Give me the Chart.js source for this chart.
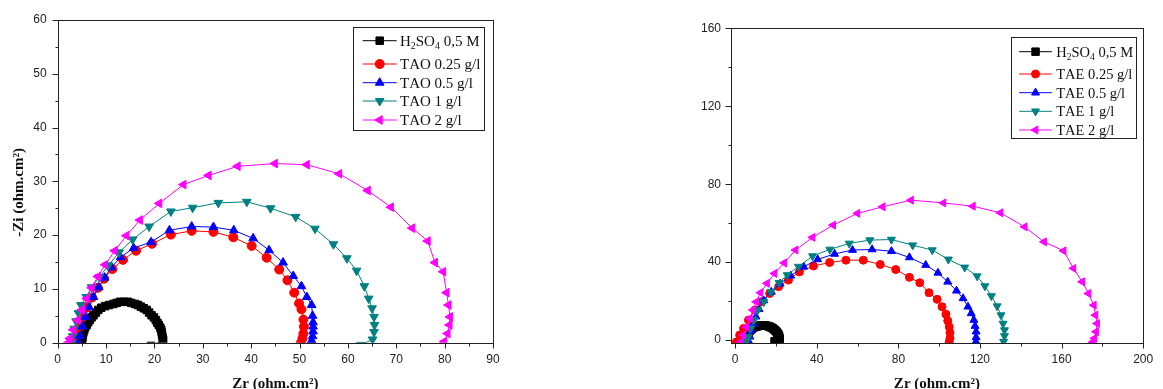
<!DOCTYPE html>
<html>
<head>
<meta charset="utf-8">
<script src="https://cdn.jsdelivr.net/npm/chart.js@4/dist/chart.umd.min.js"></script>
<style>
  html, body { margin: 0; padding: 0; background: #fff; width: 1163px; height: 389px; overflow: hidden; }
  .panel { position: absolute; top: 0; height: 389px; }
  #taoBox { left: 0; width: 560px; }
  #taeBox { left: 600px; width: 563px; }
</style>
</head>
<body>
<div class="panel" id="taoBox"><canvas id="taoChart"></canvas></div>
<div class="panel" id="taeBox"><canvas id="taeChart"></canvas></div>
<script>
// tick values
const taoXTicks = [0, 10, 20, 30, 40, 50, 60, 70, 80, 90];
const taoYTicks = [0, 10, 20, 30, 40, 50, 60];
const taeXTicks = [0, 40, 80, 120, 160, 200];
const taeYTicks = [0, 40, 80, 120, 160];

const xTitle = 'Zr (ohm.cm²)';
const yTitle = '-Zi (ohm.cm²)';

const taoLabels = ['H₂SO₄ 0,5 M', 'TAO 0.25 g/l', 'TAO 0.5 g/l', 'TAO 1 g/l', 'TAO 2 g/l'];
const taeLabels = ['H₂SO₄ 0,5 M', 'TAE 0.25 g/l', 'TAE 0.5 g/l', 'TAE 1 g/l', 'TAE 2 g/l'];

// blank solution (same for both panels)
const blankZr = [5.0, 5.0, 5.1, 5.2, 5.3, 5.5, 5.7, 6.0, 6.3, 6.6, 7.0, 7.4, 7.9, 8.4, 9.0, 9.8, 10.6, 11.5, 12.2, 12.9,
  13.7, 14.5, 15.2, 16.0, 16.6, 17.2, 17.8, 18.4, 18.9, 19.4, 19.9, 20.3, 20.6, 20.9, 21.2, 21.4, 21.5, 21.6, 21.7, 21.8, 19.3];
const blankZi = [0.0, 0.4, 0.9, 1.4, 1.9, 2.4, 2.9, 3.3, 3.8, 4.2, 4.7, 5.1, 5.6, 6.1, 6.5, 6.8, 7.0, 7.2, 7.4, 7.6,
  7.6, 7.6, 7.4, 7.2, 7.0, 6.7, 6.4, 6.1, 5.6, 5.1, 4.7, 4.2, 3.7, 3.3, 2.8, 2.4, 1.9, 1.4, 0.9, 0.5, -0.6];

// TAO panel
const tao025Zr = [3.8, 4.1, 4.6, 5.3, 6.1, 7.1, 8.3, 9.6, 11.3, 13.5, 16.2, 19.5, 23.4, 27.7, 32.2, 36.3, 40.1, 43.2, 45.8, 47.5, 48.9, 49.9, 50.4, 50.8, 50.9, 50.8, 50.6, 50.3];
const tao025Zi = [0.0, 1.4, 3.0, 4.8, 6.6, 8.4, 10.2, 11.9, 13.7, 15.4, 17.1, 18.4, 20.1, 20.8, 20.6, 19.6, 18.0, 15.8, 13.6, 11.6, 9.3, 7.3, 6.2, 4.3, 3.0, 1.7, 0.8, 0.0];
const tao05Zr = [4.3, 4.6, 5.1, 5.7, 6.5, 7.4, 8.5, 9.7, 11.1, 13.0, 15.7, 19.3, 23.1, 27.7, 32.2, 36.4, 40.4, 43.7, 46.6, 48.7, 50.4, 51.5, 52.5, 52.7, 52.8, 52.8, 52.8, 52.7, 52.5];
const tao05Zi = [0.0, 1.3, 3.0, 4.8, 6.6, 8.5, 10.3, 12.1, 14.0, 15.9, 17.6, 18.7, 20.9, 21.6, 21.5, 20.9, 19.4, 17.2, 14.9, 12.4, 10.5, 8.5, 7.0, 5.0, 3.8, 3.0, 2.1, 1.2, 0.4];
const tao1Zr = [2.9, 3.1, 3.4, 3.8, 4.3, 4.8, 5.9, 7.0, 8.6, 10.5, 12.7, 15.5, 18.9, 23.4, 27.9, 33.2, 39.1, 44.0, 49.2, 53.2, 57.0, 59.8, 61.8, 63.4, 64.3, 65.0, 65.4, 65.5, 65.4, 65.1, 62.7];
const tao1Zi = [0.0, 1.2, 2.6, 4.0, 5.5, 7.0, 8.5, 10.3, 12.2, 14.4, 16.8, 19.2, 21.6, 24.4, 25.1, 26.0, 26.2, 25.0, 23.4, 21.2, 18.3, 15.7, 13.4, 10.5, 8.2, 6.4, 4.8, 3.3, 2.0, 0.6, -0.4];
const tao2Zr = [2.2, 2.5, 3.2, 4.1, 5.0, 6.0, 7.0, 8.3, 9.8, 11.8, 14.2, 17.0, 21.0, 26.0, 31.2, 37.2, 44.9, 51.5, 58.2, 64.1, 68.9, 73.3, 76.5, 78.0, 79.7, 80.4, 80.8, 81.1, 81.0, 80.6, 79.9];
const tao2Zi = [0.0, 0.8, 2.4, 4.2, 6.1, 8.2, 10.2, 12.3, 14.5, 17.1, 19.9, 22.8, 25.9, 29.4, 31.1, 32.8, 33.3, 33.1, 31.4, 28.3, 25.2, 21.3, 18.9, 14.9, 13.2, 9.3, 7.0, 4.8, 3.3, 1.7, 0.2];

// TAE panel
const tae025Zr = [0.6, 2.2, 4.1, 6.5, 9.7, 12.9, 16.9, 21.3, 26.1, 31.5, 38.4, 46.3, 54.3, 62.8, 71.1, 78.7, 85.4, 90.5, 95.0, 99.0, 101.4, 103.3, 104.2, 104.9, 105.3, 105.3, 104.9];
const tae025Zi = [-0.9, 2.6, 6.0, 10.3, 15.4, 19.7, 23.9, 27.4, 30.8, 35.0, 38.0, 39.8, 41.0, 41.0, 38.8, 36.2, 32.2, 29.4, 24.3, 20.9, 17.1, 13.3, 9.9, 6.8, 3.8, 0.9, -1.0];
const tae05Zr = [6.7, 7.2, 8.0, 8.9, 10.2, 11.7, 14.0, 17.7, 22.0, 27.2, 33.6, 40.4, 48.7, 57.5, 67.1, 76.6, 85.4, 93.4, 99.4, 104.2, 108.5, 111.7, 114.1, 115.7, 117.0, 117.6, 118.1, 118.1, 118.0];
const tae05Zi = [-0.8, 1.7, 5.0, 8.3, 12.0, 15.8, 20.3, 24.7, 28.9, 33.0, 37.6, 41.4, 44.2, 46.2, 46.5, 45.6, 42.4, 38.5, 34.5, 29.9, 25.3, 21.4, 17.1, 13.7, 10.3, 7.2, 4.3, 1.4, -0.8];
const tae1Zr = [5.5, 6.4, 7.6, 9.2, 11.1, 14.0, 17.5, 21.5, 25.5, 31.0, 37.9, 46.4, 55.9, 66.0, 76.6, 87.0, 96.6, 104.5, 112.5, 118.6, 122.4, 125.6, 128.4, 130.3, 131.3, 132.0, 132.0, 131.6];
const tae1Zi = [-0.8, 1.7, 6.0, 10.3, 15.4, 19.6, 24.8, 29.4, 33.4, 37.7, 43.1, 46.5, 49.6, 51.3, 51.6, 48.7, 46.2, 41.4, 37.3, 32.8, 27.7, 22.6, 17.4, 12.8, 8.5, 5.1, 2.1, -0.8];
const tae2Zr = [2.9, 4.0, 5.5, 7.2, 8.7, 10.3, 12.4, 15.6, 19.3, 24.0, 29.6, 37.9, 48.0, 59.9, 72.3, 86.2, 102.1, 116.5, 130.0, 141.9, 151.4, 161.0, 165.8, 170.1, 173.2, 175.8, 176.6, 177.4, 176.9, 176.1, 175.3];
const tae2Zi = [-0.8, 2.6, 6.8, 11.1, 15.4, 19.6, 24.3, 29.1, 34.2, 39.6, 46.2, 52.7, 59.0, 65.0, 68.4, 71.8, 70.4, 68.7, 65.3, 58.1, 50.4, 45.8, 36.8, 29.9, 23.9, 17.9, 12.8, 8.5, 4.3, 0.9, -1.0];

// series look
const colors = ['#000000', '#ff0000', '#0000ff', '#008080', '#ff00ff'];
const pointStyles = ['rect', 'circle', 'triangle', 'triangle', 'triangle'];
const pointRotations = [0, 0, 0, 180, 270];

const pairs = (xs, ys) => xs.map((x, i) => ({ x: x, y: ys[i] }));

function drawMarker(ctx, style, rot, r, x, y) {
  ctx.beginPath();
  if (style === 'circle') {
    ctx.arc(x, y, r, 0, Math.PI * 2);
  } else if (style === 'rect') {
    const s = r * Math.SQRT1_2;
    ctx.rect(x - s, y - s, 2 * s, 2 * s);
  } else {
    let a = rot * Math.PI / 180;
    for (let k = 0; k < 3; k++) {
      const px = x + Math.sin(a) * r, py = y - Math.cos(a) * r;
      if (k) ctx.lineTo(px, py); else ctx.moveTo(px, py);
      a += 2 * Math.PI / 3;
    }
    ctx.closePath();
  }
  ctx.fill();
  ctx.stroke();
}

// label with unicode subscript digits drawn as small lowered digits
function drawLabel(ctx, text, x, y, size) {
  const subs = '₀₁₂₃₄₅₆₇₈₉';
  let cx = x;
  for (const ch of text) {
    const k = subs.indexOf(ch);
    if (k >= 0) {
      ctx.font = (size * 0.66) + 'px "Liberation Serif"';
      ctx.fillText(String(k), cx, y + size * 0.33);
      cx += ctx.measureText(String(k)).width;
    } else {
      ctx.font = size + 'px "Liberation Serif"';
      ctx.fillText(ch, cx, y);
      cx += ctx.measureText(ch).width;
    }
  }
}

// frame, tick marks, axis titles, legend box
const panelDecor = {
  id: 'panelDecor',
  afterDatasetsDraw(chart, args, o) {
    const ctx = chart.ctx, a = chart.chartArea;
    const xs = chart.scales.x, ys = chart.scales.y;
    ctx.save();
    ctx.strokeStyle = '#222';
    ctx.lineWidth = 1;
    ctx.strokeRect(Math.round(a.left) + 0.5, Math.round(a.top) + 0.5,
      Math.round(a.right - a.left), Math.round(a.bottom - a.top));

    const bottom = Math.round(a.bottom) + 0.5, left = Math.round(a.left) + 0.5;
    ctx.beginPath();
    o.xTicks.forEach((v, i) => {
      const px = Math.round(xs.getPixelForValue(v)) + 0.5;
      ctx.moveTo(px, bottom); ctx.lineTo(px, bottom + 5);
      if (i < o.xTicks.length - 1) {
        const m = Math.round(xs.getPixelForValue((v + o.xTicks[i + 1]) / 2)) + 0.5;
        ctx.moveTo(m, bottom); ctx.lineTo(m, bottom + 3);
      }
    });
    o.yTicks.forEach((v, i) => {
      const py = Math.round(ys.getPixelForValue(v)) + 0.5;
      ctx.moveTo(left, py); ctx.lineTo(left - 6, py);
      if (i < o.yTicks.length - 1) {
        const m = Math.round(ys.getPixelForValue((v + o.yTicks[i + 1]) / 2)) + 0.5;
        ctx.moveTo(left, m); ctx.lineTo(left - 3, m);
      }
    });
    ctx.stroke();

    // axis titles
    ctx.fillStyle = '#111';
    ctx.font = 'bold 15px "Liberation Serif"';
    ctx.textAlign = 'center';
    ctx.textBaseline = 'alphabetic';
    ctx.fillText(xTitle, (a.left + a.right) / 2, o.xTitleY);
    ctx.save();
    ctx.translate(o.yTitleX, (a.top + a.bottom) / 2 + o.yTitleShift);
    ctx.rotate(-Math.PI / 2);
    ctx.fillText(yTitle, 0, 0);
    ctx.restore();

    // legend box
    const L = o.legend;
    const bx = a.right - L.fromRight, by = a.top + L.top;
    ctx.fillStyle = '#fff';
    ctx.fillRect(bx, by, L.width, L.height);
    ctx.strokeStyle = '#222';
    ctx.strokeRect(Math.round(bx) + 0.5, Math.round(by) + 0.5, Math.round(L.width), Math.round(L.height));
    chart.data.datasets.forEach((ds, i) => {
      const ry = by + L.rows[i];
      ctx.strokeStyle = ds.borderColor;
      ctx.fillStyle = ds.borderColor;
      ctx.lineWidth = 1;
      ctx.beginPath();
      ctx.moveTo(bx + L.lineFrom, ry); ctx.lineTo(bx + L.lineTo, ry);
      ctx.stroke();
      drawMarker(ctx, ds.pointStyle, ds.pointRotation, ds.pointRadius, bx + (L.lineFrom + L.lineTo) / 2, ry);
      ctx.fillStyle = '#111';
      ctx.textAlign = 'left';
      ctx.textBaseline = 'middle';
      drawLabel(ctx, ds.label, bx + L.textX, ry + 1, L.fontSize);
    });
    ctx.restore();
  }
};

function makeChart(id, labels, series, cfg) {
  const datasets = series.map((s, i) => ({
    label: labels[i],
    data: pairs(s[0], s[1]),
    showLine: true,
    borderColor: colors[i],
    backgroundColor: colors[i],
    borderWidth: 1,
    pointStyle: pointStyles[i],
    pointRotation: pointRotations[i],
    pointRadius: cfg.sizes[i],
    pointBorderWidth: 1,
    order: 5 - i
  }));
  return new Chart(document.getElementById(id), {
    type: 'scatter',
    data: { datasets: datasets },
    options: {
      responsive: true,
      maintainAspectRatio: false,
      animation: false,
      layout: { padding: cfg.padding },
      plugins: {
        legend: { display: false },
        tooltip: { enabled: false },
        panelDecor: cfg.decor
      },
      scales: {
        x: {
          type: 'linear', min: cfg.xMin, max: cfg.xMax,
          grid: { display: false, drawTicks: false },
          border: { display: false },
          afterBuildTicks: s => { s.ticks = cfg.decor.xTicks.map(v => ({ value: v })); },
          afterFit: s => { s.height = cfg.xHeight; },
          ticks: { padding: cfg.xPad, color: '#222', font: { family: 'Liberation Sans', size: 12 }, maxRotation: 0 }
        },
        y: {
          type: 'linear', min: cfg.yMin, max: cfg.yMax,
          grid: { display: false, drawTicks: false },
          border: { display: false },
          afterBuildTicks: s => { s.ticks = cfg.decor.yTicks.map(v => ({ value: v })); },
          afterFit: s => { s.width = cfg.yWidth; },
          ticks: { padding: cfg.yPad, color: '#222', font: { family: 'Liberation Sans', size: 12 } }
        }
      }
    },
    plugins: [panelDecor]
  });
}

makeChart('taoChart', taoLabels,
  [[blankZr, blankZi], [tao025Zr, tao025Zi], [tao05Zr, tao05Zi], [tao1Zr, tao1Zi], [tao2Zr, tao2Zi]],
  {
    sizes: [5.3, 4.5, 5, 5, 5],
    xMin: 0, xMax: 90, yMin: 0, yMax: 60,
    padding: { left: 0, top: 20, right: 67, bottom: 0 },
    yWidth: 57.7, xHeight: 46.3, xPad: 9.5, yPad: 11,
    decor: {
      xTicks: taoXTicks, yTicks: taoYTicks,
      xTitleY: 388, yTitleX: 23, yTitleShift: 11,
      legend: { fromRight: 139.7, top: 6.7, width: 130.7, height: 103.3,
        rows: [14, 37.3, 56, 74.3, 93.3], lineFrom: 9.4, lineTo: 43.4, textX: 46.7, fontSize: 15 }
    }
  });

makeChart('taeChart', taeLabels,
  [[blankZr, blankZi], [tae025Zr, tae025Zi], [tae05Zr, tae05Zi], [tae1Zr, tae1Zi], [tae2Zr, tae2Zi]],
  {
    sizes: [5.3, 4, 4.6, 4.6, 4.6],
    xMin: -2.2, xMax: 200, yMin: -1.5, yMax: 160,
    padding: { left: 0, top: 28.3, right: 10, bottom: 0 },
    yWidth: 130.7, xHeight: 46, xPad: 9.8, yPad: 9.7,
    decor: {
      xTicks: taeXTicks, yTicks: taeYTicks,
      xTitleY: 388, yTitleX: 691, yTitleShift: 11,
      legend: { fromRight: 132.3, top: 9, width: 125, height: 100.7,
        rows: [14.4, 36.7, 55.4, 74, 92.7], lineFrom: 8.3, lineTo: 41, textX: 45.3, fontSize: 14.5 }
    }
  });
</script>
</body>
</html>
